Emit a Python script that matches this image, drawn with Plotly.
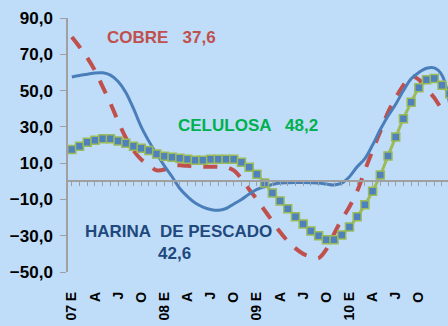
import plotly.graph_objects as go

# Monthly index, Jan-2007 .. Feb-2011 (values read as % change)
months = list(range(50))

cobre = [79.5, 74, 68, 61, 52, 43, 33, 24, 17, 12,
         9, 6, 6.5, 8.5, 8.8, 8.5, 8.2, 8, 8, 8,
         7.8, 6, 1.5, -4.5, -10, -16, -22, -28, -33, -37,
         -40, -41.5, -42.3, -37.5, -29, -21, -14, -5.5, 6, 17,
         27.5, 38, 46, 53, 58, 56, 51, 46, 40, 37.6]

celulosa = [17.5, 19.3, 21.5, 22.6, 23.5, 23.5, 22.2, 21, 19.3, 18.2,
            17, 15, 13.8, 13.2, 12.7, 12.1, 11.6, 11.6, 12.1, 12.1,
            12.1, 12.1, 10.5, 7.7, 3.9, -1, -6.4, -10.8, -15.2, -19.6,
            -23.5, -27.4, -30, -32.2, -32.2, -29.6, -25.2, -19.6, -13, -5.5,
            3.4, 14, 24.4, 34.5, 43.5, 51.5, 56, 56.6, 53, 48.2]

harina = [57.5, 58.3, 59, 59.7, 59.8, 58.5, 55, 49, 40, 30,
          22, 15, 8.5, 2.5, -4, -8.5, -12, -14.2, -15.5, -16,
          -15, -12.5, -10, -7, -4.5, -3, -1.8, -1, -0.8, -0.7,
          -0.7, -0.8, -1, -1.5, -2, -1, 2.5, 8, 12.5, 20,
          28.5, 36, 42.5, 50, 56.5, 60, 62.3, 62.5, 58.5, 42.6]

tick_pos = list(range(0, 49, 3))
tick_text = ["07 E", "A", "J", "O", "08 E", "A", "J", "O", "09 E", "A", "J", "O",
             "10 E", "A", "J", "O", "11 E"]

y_ticks = [-50, -30, -10, 10, 30, 50, 70, 90]

FONT = "Liberation Sans, Arial, sans-serif"
RED = "#C0504D"
BLUE = "#4A7EBB"
GREEN_LINE = "#9BBB59"
BG = "#BFDDF8"

fig = go.Figure()

fig.add_trace(go.Scatter(
    x=months, y=cobre, mode="lines", line_shape="spline",
    line=dict(color=RED, width=4, dash="14px,12px"),
    showlegend=False, hoverinfo="skip"))

fig.add_trace(go.Scatter(
    x=months, y=harina, mode="lines", line_shape="spline",
    line=dict(color=BLUE, width=3),
    showlegend=False, hoverinfo="skip"))

fig.add_trace(go.Scatter(
    x=months, y=celulosa, mode="lines+markers", line_shape="spline",
    line=dict(color=GREEN_LINE, width=3),
    marker=dict(symbol="square", size=8, color="#4F81BD",
                line=dict(color=GREEN_LINE, width=1.5)),
    xaxis="x2", showlegend=False, hoverinfo="skip"))

x_range = [-0.5, 48.78]

fig.update_layout(
    width=448, height=326,
    margin=dict(l=68, r=0, t=18, b=54),
    paper_bgcolor=BG, plot_bgcolor=BG,
    separators=",.",
    font=dict(family=FONT, color="black"),
    xaxis=dict(
        range=x_range, showgrid=False, zeroline=False, showline=False,
        tickmode="array", tickvals=tick_pos, ticktext=tick_text,
        tickangle=-90, ticks="", ticklabelstandoff=16,
        tickfont=dict(family=FONT, size=14, color="black", weight="bold"),
    ),
    xaxis2=dict(
        overlaying="x", matches="x", anchor="free",
        position=(0 - (-50)) / 140,
        range=x_range, showgrid=False, zeroline=False,
        showline=True, linecolor="#A0A0A0", linewidth=1.5,
        ticks="outside", ticklen=4, tickwidth=1, tickcolor="#A0A0A0",
        tickmode="linear", tick0=0, dtick=1, showticklabels=False,
    ),
    yaxis=dict(
        range=[-50, 90], showgrid=False, zeroline=False,
        showline=True, linecolor="#A0A0A0", linewidth=1.5,
        ticks="outside", ticklen=6, tickcolor="#A0A0A0",
        tickmode="array", tickvals=y_ticks, tickformat=".1f",
        ticklabelstandoff=4,
        tickfont=dict(family=FONT, size=17, color="black", weight="bold"),
    ),
)


def px_x(px):
    return (px - 68) / 380


def px_y(py):
    return (272 - py) / 254


labels = [
    ("COBRE   37,6", 161, 38, RED),
    ("CELULOSA   48,2", 248, 125, "#00B050"),
    ("HARINA  DE PESCADO", 178, 231, "#1F497D"),
    ("42,6", 174, 253, "#1F497D"),
]
for text, lx, ly, col in labels:
    fig.add_annotation(
        x=px_x(lx), y=px_y(ly), xref="paper", yref="paper",
        text=text, showarrow=False, xanchor="center", yanchor="middle",
        font=dict(family=FONT, size=17, color=col, weight="bold"))

fig.write_html("out.html")
